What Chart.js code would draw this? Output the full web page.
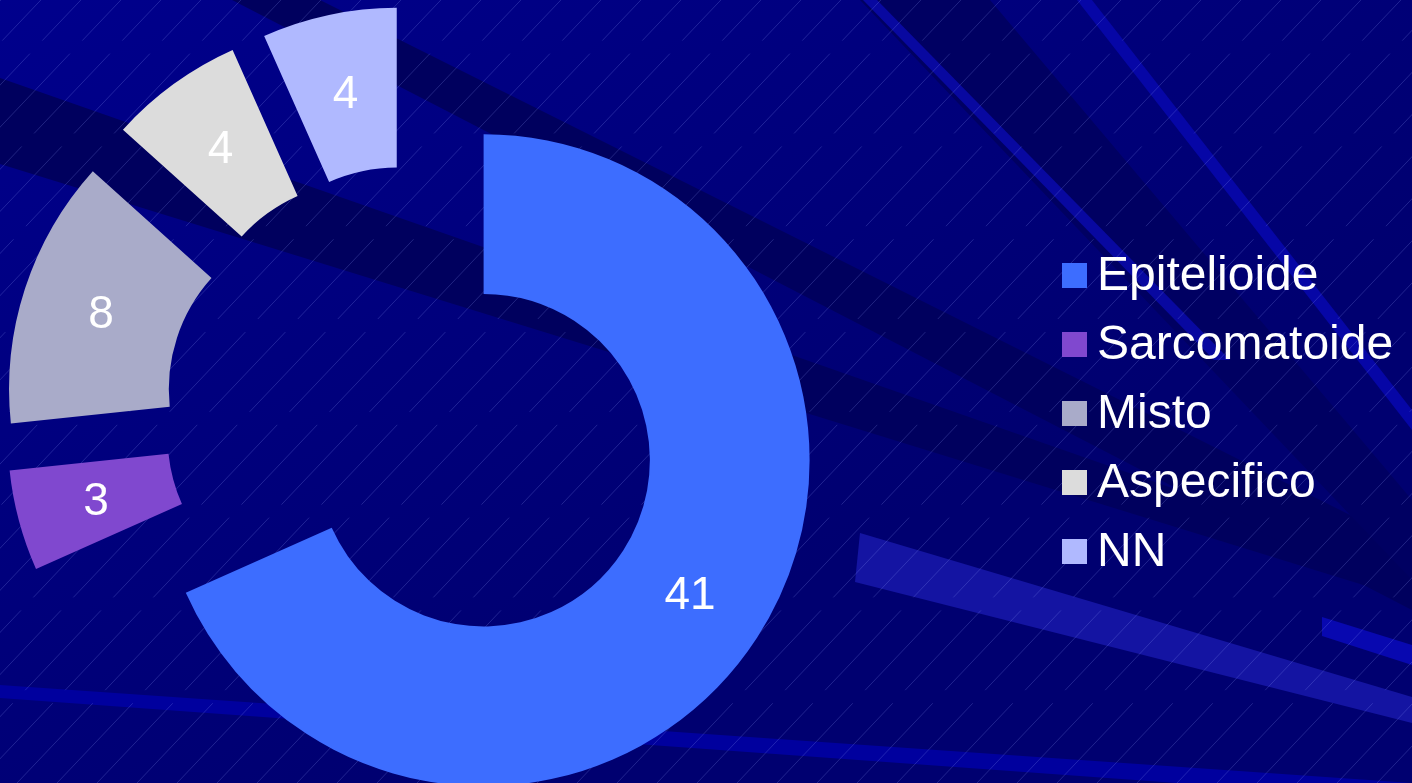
<!DOCTYPE html>
<html>
<head>
  <meta charset="utf-8">
  <title>Istotipo</title>
  <script src="https://cdn.jsdelivr.net/npm/chart.js@4.4.0/dist/chart.umd.min.js"></script>
  <style>
    html,
    body {
      margin: 0;
      padding: 0;
      width: 1412px;
      height: 783px;
      overflow: hidden;
      background: #00007e;
    }

    canvas {
      position: absolute;
      left: 0;
      top: 0;
    }
  </style>
</head>
<body>
  <canvas id="torta" width="1412" height="783"></canvas>
  <script>
    var categorie = ['Epitelioide', 'Sarcomatoide', 'Misto', 'Aspecifico', 'NN'];
    var casi = [41, 3, 8, 4, 4];
    var colori = ['#3d6dff', '#8048cf', '#a9abc9', '#dcdcdc', '#b0b9ff'];

    // distance each slice is pushed out from the centre
    var ESPLOSO = 83;
    var FONT = "'Liberation Sans', Arial, sans-serif";

    // template background: navy fill, slanted bands and thin hatching
    var bande = [
      // four corners of each band, then its colour
      [[0, 78, 1412, 572, 1412, 600, 0, 164], '#00005e'],
      [[0, -160, 1412, 546, 1412, 610, 0, -120], '#00005e'],
      [[860, 0, 990, 0, 1412, 500, 1412, 580], '#000062'],
      [[863, 0, 877, 0, 1230, 360, 1214, 360], '#0808a0'],
      [[1077, 0, 1092, 0, 1412, 410, 1412, 430], '#0606a6'],
      [[860, 533, 1412, 697, 1412, 723, 855, 582], '#1414a2'],
      [[1322, 617, 1412, 645, 1412, 665, 1322, 636], '#0808b0'],
      [[0, 685, 1412, 783, 1412, 800, 0, 698], '#00009e']
    ];

    var sfondo = {
      id: 'sfondo',
      beforeDraw: function(chart) {
        var ctx = chart.ctx;
        var w = chart.width, h = chart.height;
        ctx.save();
        var g = ctx.createLinearGradient(0, 0, w * 0.3, h);
        g.addColorStop(0, '#00008c');
        g.addColorStop(1, '#000070');
        ctx.fillStyle = g;
        ctx.fillRect(0, 0, w, h);
        bande.forEach(function(b) {
          var p = b[0];
          ctx.beginPath();
          ctx.moveTo(p[0], p[1]);
          ctx.lineTo(p[2], p[3]);
          ctx.lineTo(p[4], p[5]);
          ctx.lineTo(p[6], p[7]);
          ctx.closePath();
          ctx.fillStyle = b[1];
          ctx.fill();
        });
        ctx.strokeStyle = 'rgba(150, 165, 255, 0.28)';
        ctx.lineWidth = 0.8;
        ctx.setLineDash([110, 18]);
        for (var x = -h; x < w + 40; x += 40) {
          ctx.beginPath();
          ctx.moveTo(x, h);
          ctx.lineTo(x + h * 0.95, 0);
          ctx.stroke();
        }
        ctx.restore();
      }
    };

    // draw every arc shifted outward along its own bisector
    var esploso = {
      id: 'esploso',
      beforeDatasetDraw: function(chart, args) {
        var ctx = chart.ctx;
        args.meta.data.forEach(function(arc) {
          var mid = (arc.startAngle + arc.endAngle) / 2;
          ctx.save();
          ctx.translate(Math.cos(mid) * ESPLOSO, Math.sin(mid) * ESPLOSO);
          arc.draw(ctx);
          ctx.restore();
        });
        return false;
      }
    };

    var etichette = {
      id: 'etichette',
      afterDatasetsDraw: function(chart) {
        var ctx = chart.ctx;
        var meta = chart.getDatasetMeta(0);
        ctx.save();
        ctx.fillStyle = '#ffffff';
        ctx.font = '46px ' + FONT;
        ctx.textAlign = 'center';
        ctx.textBaseline = 'middle';
        meta.data.forEach(function(arc, i) {
          var mid = (arc.startAngle + arc.endAngle) / 2;
          var r = (arc.innerRadius + arc.outerRadius) / 2 + ESPLOSO;
          ctx.fillText(String(chart.data.datasets[0].data[i]), arc.x + Math.cos(mid) * r, arc.y + Math.sin(mid) * r + 2);
        });
        ctx.restore();
      }
    };

    var legenda = {
      id: 'legenda',
      afterDraw: function(chart) {
        var ctx = chart.ctx;
        var colors = chart.data.datasets[0].backgroundColor;
        ctx.save();
        ctx.font = '48px ' + FONT;
        ctx.textAlign = 'left';
        ctx.textBaseline = 'alphabetic';
        chart.data.labels.forEach(function(lab, i) {
          var base = 290 + i * 69;
          ctx.fillStyle = colors[i];
          ctx.fillRect(1062, base - 27, 25, 25);
          ctx.fillStyle = '#ffffff';
          ctx.fillText(lab, 1097, base);
        });
        ctx.restore();
      }
    };

    var ctx = document.getElementById('torta').getContext('2d');
    window.grafico = new Chart(ctx, {
      type: 'doughnut',
      data: {
        labels: categorie,
        datasets: [{
          data: casi,
          backgroundColor: colori,
          borderWidth: 0,
          radius: 326,
          cutout: '51%'
        }]
      },
      options: {
        responsive: false,
        animation: false,
        events: [],
        layout: {
          padding: { left: 0, right: 584, top: 47, bottom: 0 }
        },
        plugins: {
          legend: { display: false },
          tooltip: { enabled: false }
        }
      },
      plugins: [sfondo, esploso, etichette, legenda]
    });
  </script>
</body>
</html>
